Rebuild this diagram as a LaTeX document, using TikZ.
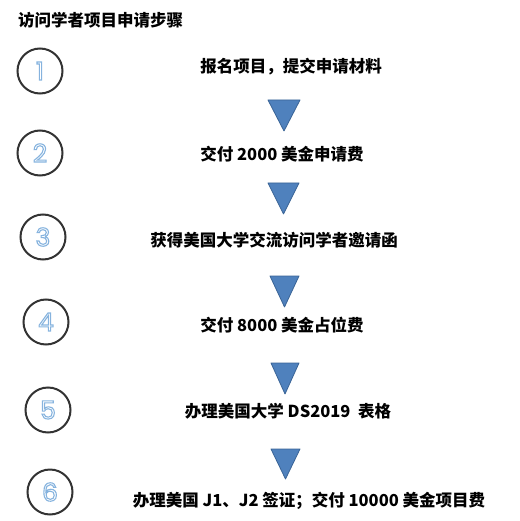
\documentclass[tikz,border=0pt]{standalone}
\usepackage{fontspec}
\setmainfont{Noto Sans CJK SC}
\newfontfamily\numfont{Poppins}

\definecolor{ringgray}{HTML}{333333}
\definecolor{numblue}{HTML}{86B3DE}
\definecolor{trifill}{HTML}{4F81BD}
\definecolor{triedge}{HTML}{3A6496}

\tikzset{
    ring/.style={circle, draw=ringgray, line width=2pt, minimum size=45pt, inner sep=0pt,
        text=numblue, font=\numfont\fontsize{25}{30}\selectfont},
    steptext/.style={inner sep=0pt, font=\fontsize{16.5}{20}\selectfont\bfseries},
    downtri/.style={fill=trifill, draw=triedge, line width=0.8pt, line join=round}
}

% digit drawn as an outline only
\newcommand{\hollow}[1]{\special{pdf:literal direct 1 Tr 1.1 w}#1\special{pdf:literal direct 0 Tr 0.4 w}}

\begin{document}
\begin{tikzpicture}[x=1pt, y=-1pt]
    \useasboundingbox (0,0) rectangle (519,521);
    \node[anchor=west, inner sep=0pt, font=\fontsize{16.5}{20}\selectfont\bfseries] (title) at (18,20) {访问学者项目申请步骤};
    \node[ring] (r1) at (40,71) {\hollow{1}};
    \node[ring] (r2) at (40,153) {\hollow{2}};
    \node[ring] (r3) at (43,237) {\hollow{3}};
    \node[ring] (r4) at (46,322) {\hollow{4}};
    \node[ring] (r5) at (48,410) {\hollow{5}};
    \node[ring] (r6) at (50,492) {\hollow{6}};
    \node[steptext] (s1) at (291,67) {报名项目，提交申请材料};
    \node[steptext] (s2) at (282,154) {交付 2000 美金申请费};
    \node[steptext] (s3) at (274,240) {获得美国大学交流访问学者邀请函};
    \node[steptext] (s4) at (282,325) {交付 8000 美金占位费};
    \node[steptext] (s5) at (288,411) {办理美国大学 DS2019\ \ 表格};
    \node[steptext] (s6) at (309,501) {办理美国 J1、J2 签证；交付 10000 美金项目费};
    % arrows between the steps
    \draw[downtri] (268,100) -- (300,100) -- (284,131) -- cycle;
    \draw[downtri] (268,183) -- (299,183) -- (283.5,214) -- cycle;
    \draw[downtri] (270,276) -- (299,276) -- (284.5,307) -- cycle;
    \draw[downtri] (271,363) -- (299,363) -- (285,394) -- cycle;
    \draw[downtri] (271,449) -- (300,449) -- (285.5,479) -- cycle;
\end{tikzpicture}
\end{document}
